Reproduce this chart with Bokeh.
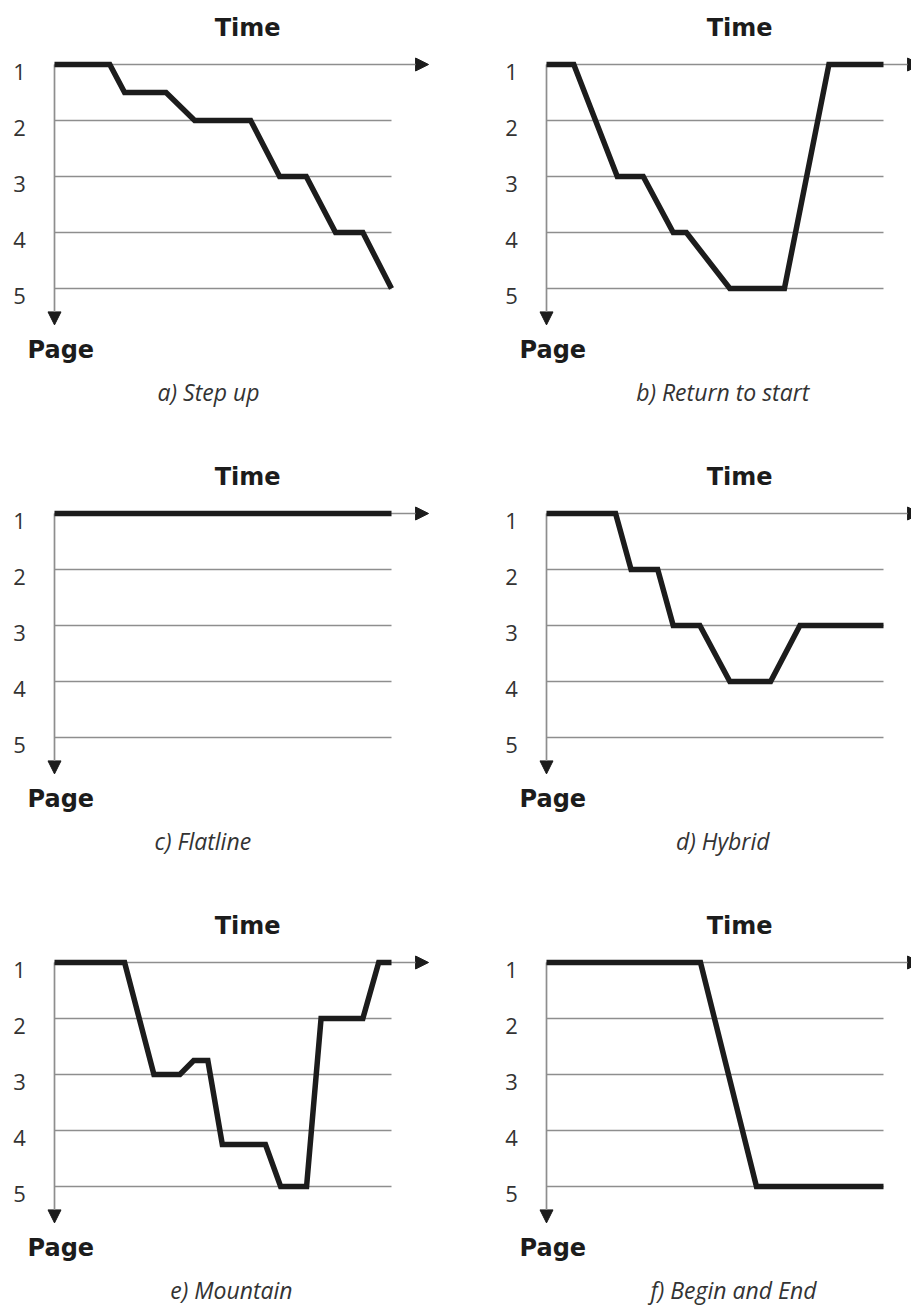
from bokeh.plotting import figure
from bokeh.layouts import gridplot
from bokeh.models import Range1d, Arrow, NormalHead, Label
from bokeh.core.properties import value
from bokeh.embed import file_html
from bokeh.resources import INLINE

# ---------------- data ----------------
captions = ["a) Step up", "b) Return to start", "c) Flatline",
            "d) Hybrid", "e) Mountain", "f) Begin and End"]
page_ticks = [1, 2, 3, 4, 5]
page_tick_labels = ["1", "2", "3", "4", "5"]
time_extent = [0, 100]

time_a = [0, 16.4, 20.8, 33.1, 41.6, 58.2, 66.8, 74.7, 83.4, 91.5, 100]
page_a = [1, 1, 1.5, 1.5, 2, 2, 3, 3, 4, 4, 5]

time_b = [0, 8.1, 21.0, 28.7, 37.6, 41.5, 54.4, 70.6, 83.8, 100]
page_b = [1, 1, 3, 3, 4, 4, 5, 5, 1, 1]

time_c = [0, 100]
page_c = [1, 1]

time_d = [0, 20.5, 25.1, 33.0, 37.6, 45.5, 54.4, 66.5, 75.2, 100]
page_d = [1, 1, 2, 2, 3, 3, 4, 4, 3, 3]

time_e = [0, 20.8, 29.5, 37.2, 41.3, 45.5, 49.8, 62.6, 67.1, 74.8, 79.1, 91.5, 96.2, 100]
page_e = [1, 1, 3, 3, 2.75, 2.75, 4.25, 4.25, 5, 5, 2, 2, 1, 1]

time_f = [0, 45.7, 62.3, 100]
page_f = [1, 1, 5, 5]

series = [(time_a, page_a), (time_b, page_b), (time_c, page_c),
          (time_d, page_d), (time_e, page_e), (time_f, page_f)]

# ---------------- layout / style ----------------
PX_T = 3.37          # pixels per time unit
PX_P = 56.0          # pixels per page unit
AXIS_X = 54          # px from figure left edge to time 0
AXIS_Y = 64          # px from figure top edge to page 1
COL_W = [492, 419]
ROW_H = [449, 449, 407]
CAPTION_X = [45.7, 52.3, 44.0, 52.3, 52.5, 55.5]
TIME_LABEL = (57.3, 0.34)
PAGE_LABEL = (-8.0, 6.1)
TICK_LABEL_X = -10.4
CAPTION_Y = 6.85
TIME_ARROW_END = 111
PAGE_ARROW_END = 5.65

INK = "#1c1c1c"
GRID = "#8e8e8e"
TEXT = "#333333"
BOLD_FONT = "DejaVu Sans"
FONT = "Open Sans"


def arrow_head():
    return NormalHead(size=13, fill_color=INK, fill_alpha=1.0,
                      line_color=INK, line_width=1)


def make_panel(i):
    col = i % 2
    row = i // 2
    w, h = COL_W[col], ROW_H[row]
    x0 = -AXIS_X / PX_T
    x1 = x0 + w / PX_T
    y_top = 1 - AXIS_Y / PX_P
    y_bot = y_top + h / PX_P
    p = figure(width=w, height=h, output_backend="svg", toolbar_location=None,
               x_range=Range1d(x0, x1), y_range=Range1d(y_bot, y_top),
               min_border=0)
    p.outline_line_color = None
    p.background_fill_color = "white"
    p.border_fill_color = "white"
    p.axis.visible = False
    p.grid.visible = False

    # page tick labels
    p.text(x=[TICK_LABEL_X] * len(page_ticks), y=page_ticks, text=page_tick_labels,
           text_align="center", text_baseline="middle", y_offset=7,
           text_font=value(FONT), text_font_size="22px", text_color=TEXT)

    # horizontal page lines (2..5)
    pages = page_ticks[1:]
    p.segment(x0=[time_extent[0]] * len(pages), x1=[time_extent[1]] * len(pages),
              y0=pages, y1=pages, line_color=GRID, line_width=1.7)

    # time axis arrow (page 1) and page axis arrow
    p.add_layout(Arrow(end=arrow_head(),
                       x_start=time_extent[0], y_start=page_ticks[0],
                       x_end=TIME_ARROW_END, y_end=page_ticks[0],
                       line_color=GRID, line_width=1.7))
    p.add_layout(Arrow(end=arrow_head(),
                       x_start=time_extent[0], y_start=page_ticks[0],
                       x_end=time_extent[0], y_end=PAGE_ARROW_END,
                       line_color=GRID, line_width=1.7))

    t, pg = series[i]
    p.line(t, pg, line_color=INK, line_width=5.5, line_join="miter", level="overlay")

    p.add_layout(Label(x=TIME_LABEL[0], y=TIME_LABEL[1], text="Time",
                       text_align="center", text_baseline="middle",
                       text_font=BOLD_FONT, text_font_style="bold",
                       text_font_size="24px", text_color=INK))
    p.add_layout(Label(x=PAGE_LABEL[0], y=PAGE_LABEL[1], text="Page",
                       text_align="left", text_baseline="middle",
                       text_font=BOLD_FONT, text_font_style="bold",
                       text_font_size="24px", text_color=INK))
    p.add_layout(Label(x=CAPTION_X[i], y=CAPTION_Y, text=captions[i],
                       text_align="center", text_baseline="middle",
                       text_font=FONT, text_font_style="italic",
                       text_font_size="23px", text_color=TEXT))
    return p


panels = [make_panel(i) for i in range(6)]
grid = gridplot([[panels[0], panels[1]], [panels[2], panels[3]], [panels[4], panels[5]]],
                toolbar_location=None)

open("out.html", "w").write(file_html(grid, INLINE))
